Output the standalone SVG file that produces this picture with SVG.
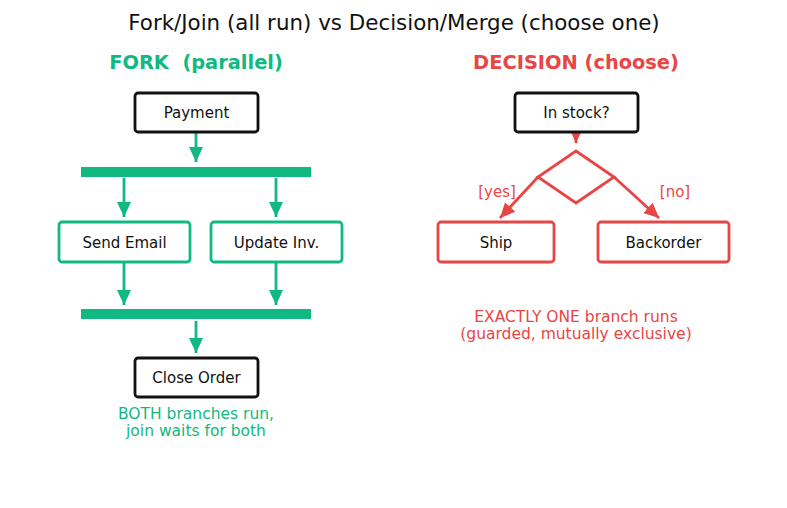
<svg xmlns="http://www.w3.org/2000/svg" width="787" height="508" viewBox="0 0 787 508">
<style>
text{font-family:"DejaVu Sans","Liberation Sans",sans-serif;text-anchor:middle}
.title{font-size:21.4px;fill:#111}
.head{font-size:19.4px;font-weight:bold;white-space:pre}
.lbl{font-size:15px;fill:#111}
.ylbl{font-size:15px;fill:#e84545}
.cap{font-size:15.5px}
.blk{fill:#fff;stroke:#111;stroke-width:2.8}
.grn{fill:#fff;stroke:#10b981;stroke-width:2.8}
.red{fill:#fff;stroke:#e84545;stroke-width:2.8}
.gl{stroke:#10b981;stroke-width:2.8;fill:none}
.rl{stroke:#e84545;stroke-width:2.8;fill:none}
</style>
<defs>
<marker id="ag" markerUnits="userSpaceOnUse" markerWidth="16" markerHeight="16" viewBox="0 0 16 16" refX="15" refY="8" orient="auto"><path d="M0,1 L15,8 L0,15 z" fill="#10b981"/></marker>
<marker id="ar" markerUnits="userSpaceOnUse" markerWidth="16" markerHeight="16" viewBox="0 0 16 16" refX="15" refY="8" orient="auto"><path d="M0,1 L15,8 L0,15 z" fill="#e84545"/></marker>
</defs>
<rect width="787" height="508" fill="#fff"/>
<text class="title" x="394" y="30">Fork/Join (all run) vs Decision/Merge (choose one)</text>
<text class="head" x="196" y="69" fill="#10b981" xml:space="preserve">FORK  (parallel)</text>
<text class="head" x="576" y="69" fill="#e84545">DECISION (choose)</text>

<g id="connectors">
<line class="gl" x1="196" y1="133" x2="196" y2="162" marker-end="url(#ag)"/>
<line class="gl" x1="124" y1="178" x2="124" y2="217" marker-end="url(#ag)"/>
<line class="gl" x1="276" y1="178" x2="276" y2="217" marker-end="url(#ag)"/>
<line class="gl" x1="124" y1="262" x2="124" y2="305" marker-end="url(#ag)"/>
<line class="gl" x1="276" y1="262" x2="276" y2="305" marker-end="url(#ag)"/>
<line class="gl" x1="196" y1="321" x2="196" y2="353" marker-end="url(#ag)"/>
<line class="rl" x1="576" y1="132" x2="576" y2="143" marker-end="url(#ar)"/>
<line class="rl" x1="538" y1="177" x2="500" y2="218" marker-end="url(#ar)"/>
<line class="rl" x1="614" y1="177" x2="659" y2="218" marker-end="url(#ar)"/>
</g>

<g id="payment"><rect class="blk" x="135" y="93" width="123" height="39" rx="3"/><text class="lbl" x="196.5" y="118">Payment</text></g>
<g id="fork-bar"><rect x="81" y="167" width="230" height="10" fill="#10b981"/></g>
<g id="send-email"><rect class="grn" x="59" y="222" width="131" height="40" rx="3"/><text class="lbl" x="124.5" y="247.5">Send Email</text></g>
<g id="update-inv"><rect class="grn" x="211" y="222" width="131" height="40" rx="3"/><text class="lbl" x="276.5" y="247.5">Update Inv.</text></g>
<g id="join-bar"><rect x="81" y="309" width="230" height="10" fill="#10b981"/></g>
<g id="close-order"><rect class="blk" x="135" y="358" width="123" height="39" rx="3"/><text class="lbl" x="196.5" y="383">Close Order</text></g>
<g id="fork-caption" fill="#10b981"><text class="cap" x="196" y="419">BOTH branches run,</text><text class="cap" x="196" y="436">join waits for both</text></g>

<g id="in-stock"><rect class="blk" x="515" y="93" width="123" height="39" rx="3"/><text class="lbl" x="576.5" y="118">In stock?</text></g>
<g id="decision"><polygon class="red" points="576,151 614,177 576,203 538,177"/></g>
<g id="ship"><rect class="red" x="438" y="222" width="116" height="40" rx="3"/><text class="lbl" x="496" y="247.5">Ship</text></g>
<g id="backorder"><rect class="red" x="598" y="222" width="131" height="40" rx="3"/><text class="lbl" x="663.5" y="247.5">Backorder</text></g>
<g id="labels"><text class="ylbl" x="497" y="197">[yes]</text><text class="ylbl" x="675" y="197">[no]</text></g>
<g id="decision-caption" fill="#e84545"><text class="cap" x="576" y="322">EXACTLY ONE branch runs</text><text class="cap" x="576" y="339">(guarded, mutually exclusive)</text></g>
</svg>
